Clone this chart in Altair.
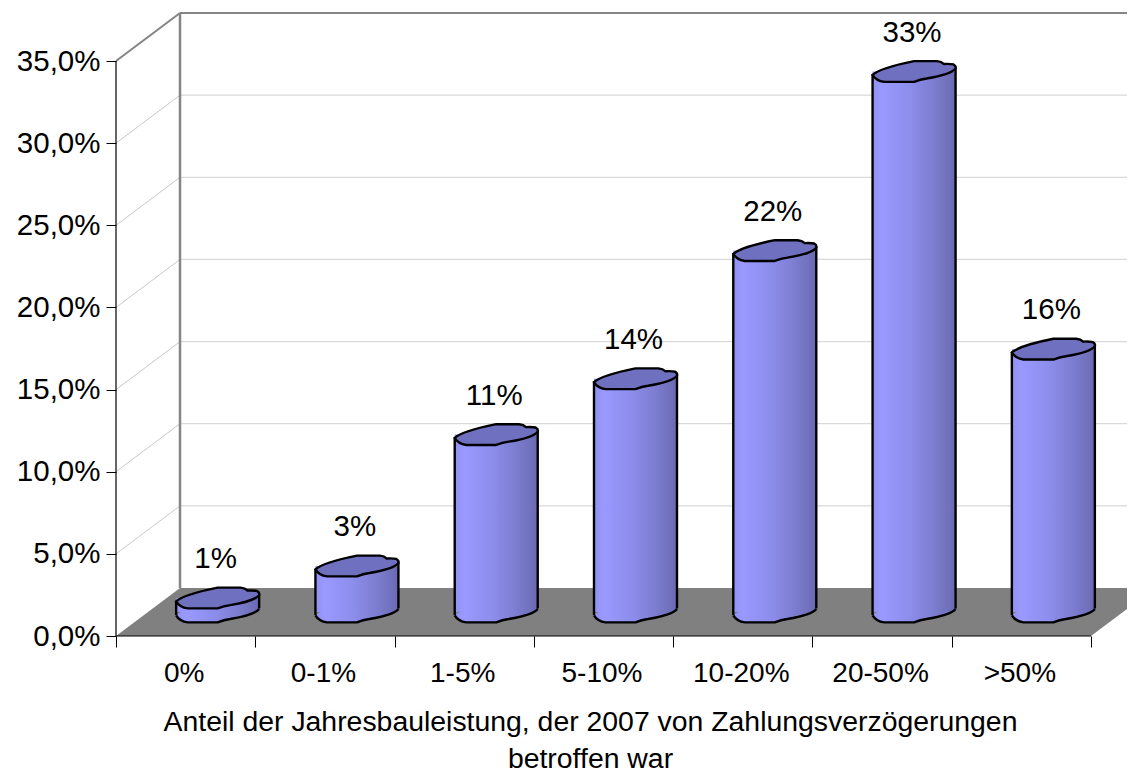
import altair as alt
import pandas as pd

categories = ["0%", "0-1%", "1-5%", "5-10%", "10-20%", "20-50%", ">50%"]
values = [0.85, 2.8, 10.8, 14.2, 22.0, 32.9, 16.0]
value_labels = ["1%", "3%", "11%", "14%", "22%", "33%", "16%"]
y_ticks = [0, 5, 10, 15, 20, 25, 30, 35]
x_title = ["Anteil der Jahresbauleistung, der 2007 von Zahlungsverzögerungen", "betroffen war"]

# geometry of the pseudo-3D box, expressed in data units
PX_X = 975 / 7.0          # px per category
PX_Y = 575 / 35.0         # px per percent
W, H = 1011, 623
XMAX, YMAX = W / PX_X, H / PX_Y
DX, DY = 64 / PX_X, 48 / PX_Y
HALF = 41.5 / PX_X
TILT_L, TILT_R = 3 / PX_Y, 3.5 / PX_Y
FONT = "Liberation Sans"
FS = 29.5

xs = alt.Scale(domain=[0, XMAX], range=[0, W], nice=False, zero=False)
ys = alt.Scale(domain=[0, YMAX], range=[H, 0], nice=False, zero=False)

# Box lines
segs = []
for t in y_ticks[1:]:
    segs.append(dict(x=0, x2=DX, y=t, y2=t + DY, c="#C8C8C8", w=1))
    if t < 35:
        segs.append(dict(x=DX, x2=XMAX, y=t + DY, y2=t + DY, c="#D9D9D9", w=1.3))
segs.append(dict(x=DX, x2=XMAX, y=35 + DY, y2=35 + DY, c="#858585", w=2))
segs.append(dict(x=0, x2=DX, y=35, y2=35 + DY, c="#858585", w=2))
segs.append(dict(x=DX, x2=DX, y=0 + DY, y2=35 + DY, c="#858585", w=2.5))
seg_df = pd.DataFrame(segs)

cat_expr = "[" + ",".join("'" + c + "'" for c in categories) + "]"
x_axis_vals = [i / 2 for i in range(15)]
x_axis = alt.Axis(
    values=x_axis_vals, title=x_title, grid=False, domain=False,
    tickSize=11, tickColor="#000000", tickWidth=1,
    tickOpacity={"condition": {"test": "datum.value % 1 == 0", "value": 1}, "value": 0},
    labelExpr="datum.value % 1 == 0 ? '' : " + cat_expr + "[floor(datum.value)]",
    labelFont=FONT, labelFontSize=28, labelColor="#000000", labelOverlap=False,
    labelFlush=False, labelBound=False, labelPadding=12, labelAngle=0, labelOffset=-2,
    titleFont=FONT, titleFontSize=28.4, titleFontWeight="normal", titleColor="#000000",
    titleLineHeight=37.5, titlePadding=21, titleX=474,
)
y_axis = alt.Axis(
    values=y_ticks, title=None, grid=False, domain=False,
    tickSize=10, tickColor="#000000", tickWidth=1,
    labelExpr="replace(format(datum.value, '.1f'), '.', ',') + '%'",
    labelFont=FONT, labelFontSize=FS, labelColor="#000000", labelPadding=6,
    labelOverlap=False, labelFlush=False, labelBound=False,
)


def X(f):
    return alt.X(f, scale=xs, axis=x_axis)


def Y(f):
    return alt.Y(f, scale=ys, axis=y_axis)


lines = alt.Chart(seg_df).mark_rule().encode(
    x=X("x:Q"),
    x2="x2:Q",
    y=Y("y:Q"),
    y2="y2:Q",
    color=alt.Color("c:N", scale=None, legend=None),
    size=alt.Size("w:Q", scale=None, legend=None),
)

# floor
floor_df = pd.DataFrame({
    "x": [0, DX, 7, XMAX],
    "top": [0, DY, DY, DY],
    "bot": [0, 0, 0, (XMAX - 7) / DX * DY],
})
floor = alt.Chart(floor_df).mark_area(color="#808080", opacity=1, interpolate="linear").encode(
    x=X("x:Q"),
    y=Y("top:Q"),
    y2="bot:Q",
)

# front axis lines
ax_df = pd.DataFrame({"x": [0, 0], "x2": [0, 7], "y": [0, 0], "y2": [35, 0]})
axes_front = alt.Chart(ax_df).mark_rule(color="#000000", size=1.2).encode(
    x=X("x:Q"), x2="x2:Q",
    y=Y("y:Q"), y2="y2:Q",
)

# cylinders
df = pd.DataFrame({"cat": categories, "v": values, "label": value_labels})
df["cx"] = [i + 0.5 + DX / 2 for i in range(len(df))]
df["x0"] = df.cx - HALF
df["x1"] = df.cx + HALF
df["top"] = df.v + DY / 2
df["base"] = DY / 2
df["lt"] = df.top - TILT_L
df["lb"] = df.base - TILT_L
df["rt"] = df.top + TILT_R
df["rb"] = df.base + TILT_R

body_grad = alt.LinearGradient(
    gradient="linear", x1=0, y1=0, x2=1, y2=0,
    stops=[
        alt.GradientStop(offset=0, color="#9292F4"),
        alt.GradientStop(offset=0.12, color="#9999FF"),
        alt.GradientStop(offset=0.45, color="#8D8DEC"),
        alt.GradientStop(offset=0.75, color="#7C7CCF"),
        alt.GradientStop(offset=1, color="#6A6AB2"),
    ],
)
cap = ("M-1,0.08 C-0.82,-0.08 -0.35,-0.18 0,-0.25 L0.55,-0.25 Q0.66,-0.24 0.72,-0.18 "
       "Q0.85,-0.19 0.95,-0.17 Q1.02,-0.13 1,-0.07 C0.9,0.06 0.55,0.13 0.3,0.17 "
       "Q0.15,0.19 0,0.25 L-0.72,0.25 Q-0.92,0.22 -1,0.08 Z")
cap_lower = ("M1,-0.07 C0.9,0.06 0.55,0.13 0.3,0.17 "
             "Q0.15,0.19 0,0.25 L-0.72,0.25 Q-0.92,0.22 -1,0.08")
SIZE = 83 ** 2
base_c = alt.Chart(df)
bottoms = base_c.mark_point(shape=cap, size=SIZE, filled=True, fill=body_grad, opacity=1,
                            strokeWidth=0).encode(
    x=X("cx:Q"), y=Y("base:Q"))
bodies = base_c.mark_rect(fill=body_grad).encode(
    x=X("x0:Q"), x2="x1:Q",
    y=Y("top:Q"), y2="base:Q")
bottom_line = base_c.mark_point(shape=cap_lower, size=SIZE, filled=False, opacity=1,
                                stroke="#000000", strokeWidth=2.4).encode(
    x=X("cx:Q"), y=Y("base:Q"))
left_side = base_c.mark_rule(color="#000000", size=2.4).encode(
    x=X("x0:Q"),
    y=Y("lt:Q"), y2="lb:Q")
right_side = base_c.mark_rule(color="#000000", size=2.4).encode(
    x=X("x1:Q"),
    y=Y("rt:Q"), y2="rb:Q")
tops = base_c.mark_point(shape=cap, size=SIZE, filled=True, fill="#7070C0", opacity=1,
                         stroke="#000000", strokeWidth=2.4).encode(
    x=X("cx:Q"), y=Y("top:Q"))
texts = base_c.mark_text(font=FONT, fontSize=FS, color="#000000", dy=-39, dx=-2, baseline="middle").encode(
    x=X("cx:Q"), y=Y("top:Q"), text="label:N")

chart = alt.layer(lines, floor, axes_front, bottoms, bodies, bottom_line, left_side, right_side, tops, texts).properties(
    width=W, height=H,
    padding={"left": 108, "top": 5, "right": 0, "bottom": 137},
    autosize=alt.AutoSizeParams(type="none"),
    background="#FFFFFF",
).configure_view(stroke=None)

chart.save("out.html", embed_options={"renderer": "svg", "actions": False})
